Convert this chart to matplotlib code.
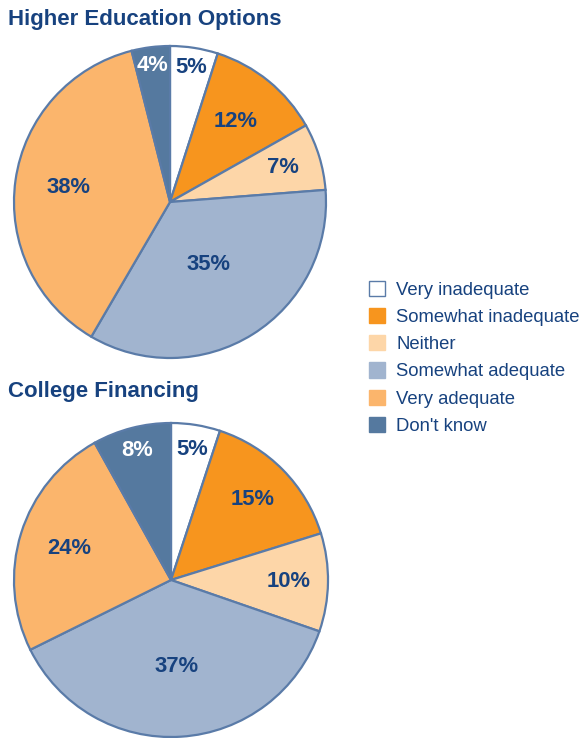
import numpy as np
import matplotlib
matplotlib.use("Agg")
import matplotlib.pyplot as plt
from matplotlib.patches import Patch

plt.rcParams['font.family'] = ['Liberation Sans', 'DejaVu Sans']

categories = ["Very inadequate", "Somewhat inadequate", "Neither",
              "Somewhat adequate", "Very adequate", "Don't know"]
higher_ed = [5, 12, 7, 35, 38, 4]
financing = [5, 15, 10, 37, 24, 8]
titles = ["Higher Education Options", "College Financing"]

colors = ["#FFFFFF", "#F7951E", "#FDD6A8", "#A1B4CF", "#FBB56C", "#55799F"]
edge = "#5A7BA8"
navy = "#17427F"
label_colors = [navy, navy, navy, navy, navy, "white"]
label_r_top = [0.87, 0.67, 0.76, 0.47, 0.66, 0.88]
label_r_bot = [0.84, 0.73, 0.75, 0.55, 0.68, 0.85]

W, H = 581, 738
fig = plt.figure(figsize=(W / 100, H / 100), dpi=100)

def add_pie(cx, cy, r, values, radii, title, title_y):
    lim = 1.05
    half = lim * r
    ax = fig.add_axes([(cx - half) / W, (H - (cy + half)) / H, 2 * half / W, 2 * half / H])
    wedges, _ = ax.pie(values, colors=colors, startangle=90, counterclock=False,
                       wedgeprops=dict(edgecolor=edge, linewidth=1.6))
    for w, v, rr, c in zip(wedges, values, radii, label_colors):
        ang = np.deg2rad((w.theta1 + w.theta2) / 2)
        ax.text(rr * np.cos(ang), rr * np.sin(ang), f"{v}%", ha='center', va='center',
                fontsize=15.8, fontweight='bold', color=c)
    ax.set_xlim(-lim, lim)
    ax.set_ylim(-lim, lim)
    ax.set_aspect('equal')
    ax.axis('off')
    fig.text(8 / W, 1 - title_y / H, title, ha='left', va='center',
             fontsize=16, fontweight='bold', color=navy)

add_pie(170, 202, 156, higher_ed, label_r_top, titles[0], 20)
add_pie(171, 580, 157, financing, label_r_bot, titles[1], 392)

handles = [Patch(facecolor=c, edgecolor=(edge if c == "#FFFFFF" else c), linewidth=1.0)
           for c in colors]
fig.legend(handles, categories, loc='upper left', bbox_to_anchor=(369 / W, 1 - 281 / H),
           frameon=False, fontsize=13.3, handlelength=0.88, handleheight=0.88,
           handletextpad=0.6, labelspacing=0.5, borderpad=0, borderaxespad=0,
           labelcolor=navy)

fig.savefig("out.png", dpi=100)
